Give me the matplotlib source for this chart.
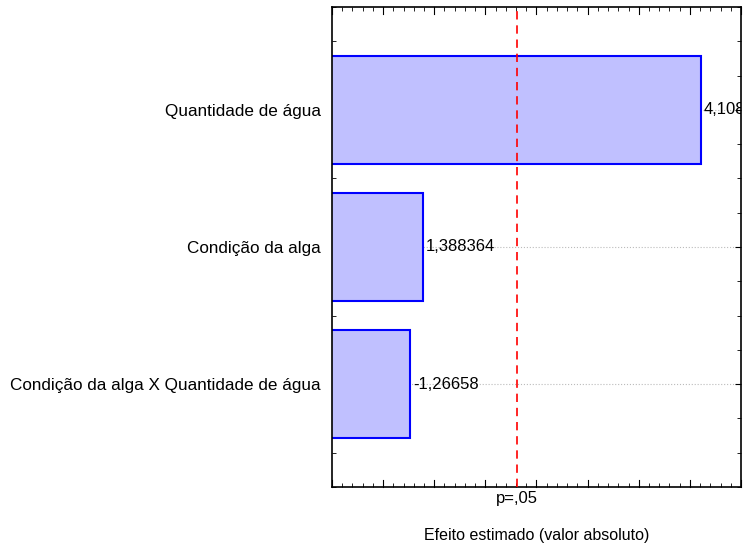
import numpy as np
import matplotlib
matplotlib.use("Agg")
import matplotlib.pyplot as plt
from matplotlib.ticker import MultipleLocator

# Pareto chart of standardized effects
fatores = ["Condição da alga X Quantidade de água",
           "Condição da alga",
           "Quantidade de água"]
efeitos = [-1.26658, 1.388364, 4.108]
rotulos = ["-1,26658", "1,388364", "4,108088"]
t_critico = 2.306  # p=,05

plt.rcParams["font.family"] = ["Liberation Sans", "DejaVu Sans"]
fs = 12

fig = plt.figure(figsize=(7.45, 5.51), dpi=100)
ax = fig.add_axes([0.4456, 0.1162, 0.5490, 0.8711])

pos = np.arange(len(fatores))
ax.grid(axis="y", color="#bbbbbb", linestyle=":", linewidth=0.8, zorder=0)
ax.barh(pos, np.abs(efeitos), height=0.79, left=0,
        color="#c0c0ff", edgecolor="#0000ff", linewidth=1.5, zorder=2)

for y, v, s in zip(pos, efeitos, rotulos):
    ax.text(abs(v) + 0.03, y, s, va="center", ha="left", fontsize=fs,
            clip_on=True, zorder=3)

ax.axvline(t_critico, color="#ff0000", linestyle=(0, (5, 3.5)), linewidth=1.2, zorder=4)

ax.set_xlim(0.5, 4.5)
ax.set_ylim(-0.75, 2.75)

ax.set_yticks(pos)
ax.set_yticklabels(fatores, fontsize=12.3)
ax.yaxis.set_minor_locator(MultipleLocator(0.25))
ax.set_xticks([t_critico])
ax.set_xticklabels(["p=,05"], fontsize=fs)
ax.xaxis.set_minor_locator(MultipleLocator(0.1))

# inward ticks all round; no x-tick mark at the p line itself
ax.tick_params(which="both", direction="in", top=True, right=True, color="black")
ax.tick_params(axis="x", which="major", length=0, pad=3)
ax.tick_params(axis="x", which="minor", length=3)
ax.tick_params(axis="y", which="major", length=4, pad=8)
ax.tick_params(axis="y", which="minor", length=3)
# larger marks every 0.5 along x
for xv in np.arange(0.5, 4.51, 0.5):
    ax.plot([xv, xv], [-0.75, -0.75 + 0.05], color="black", lw=0.8, clip_on=False, zorder=5)
    ax.plot([xv, xv], [2.75, 2.75 - 0.05], color="black", lw=0.8, clip_on=False, zorder=5)

for sp in ax.spines.values():
    sp.set_linewidth(1.2)

ax.set_xlabel("Efeito estimado (valor absoluto)", fontsize=11.5, labelpad=16)

fig.savefig("out.png", dpi=100)
